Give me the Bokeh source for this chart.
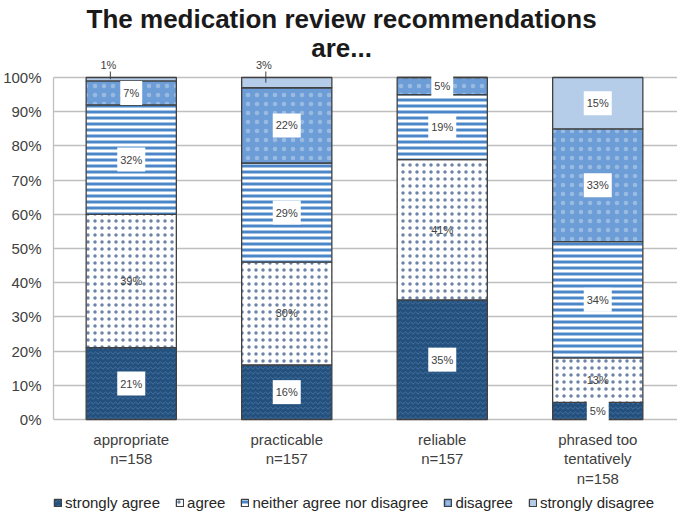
from bokeh.plotting import figure
from bokeh.models import (Range1d, FixedTicker, Label, Legend, LegendItem,
                          ColumnDataSource)
from bokeh.embed import file_html
from bokeh.resources import INLINE

# ---------------- data ----------------
title_lines = ["The medication review recommendations", "are..."]
categories = ["appropriate", "practicable", "reliable", "phrased too\ntentatively"]
n_values = [158, 157, 157, 158]
responses = ["strongly agree", "agree", "neither agree nor disagree",
             "disagree", "strongly disagree"]
strongly_agree = [21, 16, 35, 5]
agree = [39, 30, 41, 13]
neither = [32, 29, 19, 34]
disagree = [7, 22, 5, 33]
strongly_disagree = [1, 3, 0, 15]
y_ticks = [0, 10, 20, 30, 40, 50, 60, 70, 80, 90, 100]

series = [strongly_agree, agree, neither, disagree, strongly_disagree]
keys = ["sa", "a", "n", "d", "sd"]

# ---------------- layout ----------------
W, H = 677, 514
FRAME_L = 51
ZERO_Y = 419          # canvas px of the 0% line
PX_X = 156.0          # px per category
PX_Y = 3.42           # px per percent
x_end = -0.5 + (W - FRAME_L) / PX_X
y_start = -(H - ZERO_Y) / PX_Y
y_end = ZERO_Y / PX_Y


def ydata(py):
    return (ZERO_Y - py) / PX_Y


FONT = "Liberation Sans"
TXT = "#404040"

p = figure(width=W, height=H, x_range=Range1d(-0.5, x_end),
           y_range=Range1d(y_start, y_end), output_backend="svg",
           toolbar_location=None, min_border_left=FRAME_L, min_border_right=0,
           min_border_top=0, min_border_bottom=0)
p.outline_line_color = None
p.background_fill_color = "white"
p.border_fill_color = "white"

# grid
p.xgrid.grid_line_color = None
p.ygrid.ticker = FixedTicker(ticks=y_ticks)
p.ygrid.grid_line_color = "#BFBFBF"
p.ygrid.grid_line_width = 1.3

# y axis
p.yaxis.ticker = FixedTicker(ticks=y_ticks)
p.yaxis.major_label_overrides = {t: f"{t}%" for t in y_ticks}
p.yaxis.bounds = (0, 100)
p.yaxis.axis_line_color = "#BFBFBF"
p.yaxis.axis_line_width = 1.3
p.yaxis.major_tick_line_color = None
p.yaxis.minor_tick_line_color = None
p.yaxis.major_tick_out = 0
p.yaxis.major_tick_in = 0
p.yaxis.major_label_standoff = 12
p.yaxis.major_label_text_font = FONT
p.yaxis.major_label_text_font_size = "15px"
p.yaxis.major_label_text_color = TXT

# x axis: category labels drawn as text under the 0% line
p.xaxis.visible = False

# ---------------- bars ----------------
data = {"x": list(range(len(categories)))}
for k, s in zip(keys, series):
    data[k] = s
src = ColumnDataSource(data)

fills = ["#24507e", "#ffffff", "#ffffff", "#6d9dd6", "#b6cdea"]
hatches = ["horizontal_wave", "dot", "horizontal_line", "dot", " "]
hcolors = ["#4d7aa8", "#2c4f80", "#4a86c8", "#ffffff", "#b6cdea"]
hscales = [5.0, 7.0, 6.0, 9.0, 12.0]
hweights = [0.8, 1.0, 3.0, 1.0, 1.0]
halphas = [1.0, 0.7, 1.0, 0.3, 1.0]

rs = p.vbar_stack(keys, x="x", width=0.58, source=src,
                  fill_color=fills, hatch_pattern=hatches,
                  hatch_color=hcolors, hatch_scale=hscales,
                  hatch_weight=hweights, hatch_alpha=halphas,
                  line_color="#404040", line_width=1.3)

# ---------------- category labels ----------------
for i, (c, n) in enumerate(zip(categories, n_values)):
    p.add_layout(Label(x=i, y=ydata(430), text=f"{c}\nn={n}",
                       text_align="center", text_baseline="top",
                       text_font=FONT, text_font_size="15px",
                       text_color=TXT, text_line_height=1.15))

# ---------------- data labels ----------------
for i in range(len(categories)):
    base = 0
    for j, s in enumerate(series):
        v = s[i]
        top = base + v
        if v > 0:
            mid = base + v / 2
            if v <= 3 and j == len(series) - 1:
                # small top segment: label above bar with leader line
                lx = i - 21 / PX_X
                p.segment(x0=[lx], y0=[100 + 6 / PX_Y], x1=[lx], y1=[mid],
                          line_color="#404040", line_width=1)
                p.add_layout(Label(x=lx - 2 / PX_X, y=100 + 13 / PX_Y,
                                   text=f"{v}%",
                                   text_align="center", text_baseline="middle",
                                   text_font=FONT, text_font_size="11px",
                                   text_color=TXT))
            else:
                kw = {}
                if j != 1:
                    kw = dict(background_fill_color="white", padding=(3, 6))
                p.add_layout(Label(x=i, y=mid, text=f"{v}%",
                                   text_align="center", text_baseline="middle",
                                   text_font=FONT, text_font_size="11px",
                                   text_color=TXT, **kw))
        base = top

# ---------------- title ----------------
title_x = -0.5 + (340 - FRAME_L) / PX_X
for line, fy in zip(title_lines, [18, 47]):
    p.add_layout(Label(x=title_x, y=ydata(fy), text=line,
                       text_align="center", text_baseline="middle",
                       text_font=FONT, text_font_size="26px",
                       text_font_style="bold", text_color="#1a1a1a"))

# ---------------- legend ----------------
legend = Legend(items=[LegendItem(label=lab, renderers=[r])
                       for lab, r in zip(responses, rs)],
                orientation="horizontal", location=(0, 3),
                glyph_width=9, glyph_height=9, label_standoff=3, spacing=15,
                label_height=16, padding=0, margin=0, border_line_color=None,
                background_fill_alpha=0, label_text_font=FONT,
                label_text_font_size="15px", label_text_color="#262626")
p.add_layout(legend, "center")

open("out.html", "w").write(file_html(p, INLINE))
